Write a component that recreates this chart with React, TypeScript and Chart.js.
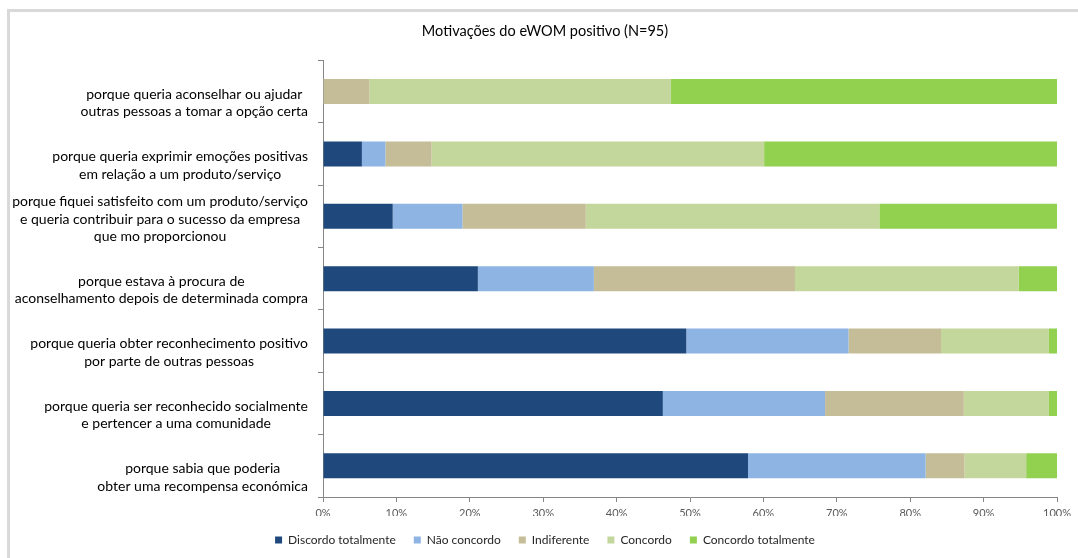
import React, { useEffect, useRef } from "react";
import { Chart, registerables } from "chart.js";

Chart.register(...registerables);

const titleText = "Motivações do eWOM positivo (N=95)";

const categories: string[][] = [
  ["porque queria aconselhar ou ajudar", "outras pessoas a tomar a opção certa"],
  ["porque queria exprimir emoções positivas", "em relação a um produto/serviço"],
  [
    "porque fiquei satisfeito com um produto/serviço",
    "e queria contribuir para o sucesso da empresa",
    "que mo proporcionou",
  ],
  ["porque estava à procura de", "aconselhamento depois de determinada compra"],
  ["porque queria obter reconhecimento positivo", "por parte de outras pessoas"],
  ["porque queria ser reconhecido socialmente", "e pertencer a uma comunidade"],
  ["porque sabia que poderia", "obter uma recompensa económica"],
];

const seriesNames = [
  "Discordo totalmente",
  "Não concordo",
  "Indiferente",
  "Concordo",
  "Concordo totalmente",
];

const discordoTotalmente = [0, 5.3, 9.5, 21.1, 49.5, 46.3, 57.9];
const naoConcordo = [0, 3.2, 9.5, 15.8, 22.1, 22.1, 24.2];
const indiferente = [6.3, 6.3, 16.8, 27.4, 12.6, 18.9, 5.3];
const concordo = [41.1, 45.3, 40.0, 30.5, 14.7, 11.6, 8.4];
const concordoTotalmente = [52.6, 40.0, 24.2, 5.3, 1.1, 1.1, 4.2];

const xTicks = [0, 10, 20, 30, 40, 50, 60, 70, 80, 90, 100];

const colors = ["#1F497D", "#8DB4E2", "#C4BD97", "#C3D69B", "#92D050"];

const FONT = "Lato, 'Open Sans', sans-serif";

const framePlugin = {
  id: "frame",
  beforeDraw(chart: any) {
    const ctx = chart.ctx;
    ctx.save();
    ctx.fillStyle = "#ffffff";
    ctx.fillRect(0, 0, chart.width, chart.height);
    ctx.fillStyle = "#D9D9D9";
    ctx.fillRect(7, 9, chart.width - 7, 3);
    ctx.fillRect(7, 9, 3, chart.height - 9);
    ctx.restore();
  },
};

const yLabelPlugin = {
  id: "yLabels",
  afterDraw(chart: any) {
    const ctx = chart.ctx;
    const y = chart.scales.y;
    const n = categories.length;
    const band = (y.bottom - y.top) / n;
    const lh = 17.5;
    const rightEdge = y.right - 15;
    ctx.save();
    ctx.font = `14px ${FONT}`;
    ctx.fillStyle = "#000000";
    ctx.textAlign = "center";
    ctx.textBaseline = "middle";
    categories.forEach((lines, i) => {
      const center = y.getPixelForValue(i);
      const bottom = center + band / 2;
      const maxW = Math.max(...lines.map((l) => ctx.measureText(l).width));
      const cx = rightEdge - maxW / 2;
      const lastY = bottom - 11;
      lines.forEach((line, j) => {
        const ly = lastY - (lines.length - 1 - j) * lh;
        ctx.fillText(line, cx, ly);
      });
    });
    ctx.restore();
  },
};

export default function App() {
  const canvasRef = useRef<HTMLCanvasElement | null>(null);

  useEffect(() => {
    if (!canvasRef.current) return;
    const values = [discordoTotalmente, naoConcordo, indiferente, concordo, concordoTotalmente];
    const chart = new Chart(canvasRef.current, {
      type: "bar",
      data: {
        labels: categories.map((c) => c.join(" ")),
        datasets: seriesNames.map((name, i) => ({
          label: name,
          data: values[i],
          backgroundColor: colors[i],
          borderWidth: 0,
          barPercentage: 0.4,
          categoryPercentage: 1,
        })),
      },
      options: {
        indexAxis: "y",
        animation: false,
        responsive: false,
        layout: { padding: { top: 12, right: 21, bottom: 2, left: 33 } },
        plugins: {
          title: {
            display: true,
            text: titleText,
            color: "#000000",
            font: { family: FONT, size: 14.5, weight: "normal" },
            padding: { top: 11, bottom: 20 },
          },
          legend: {
            display: true,
            position: "bottom",
            labels: {
              boxWidth: 7,
              boxHeight: 7,
              padding: 18,
              color: "#262626",
              font: { family: FONT, size: 12 },
            },
          },
          tooltip: { enabled: false },
        },
        scales: {
          x: {
            stacked: true,
            min: 0,
            max: 100,
            afterBuildTicks(scale: any) {
              scale.ticks = xTicks.map((v) => ({ value: v }));
            },
            afterFit(scale: any) {
              scale.height = 19;
            },
            ticks: {
              padding: 5,
              color: "#595959",
              font: { family: FONT, size: 11 },
              callback: (v: any) => `${v}%`,
            },
            grid: {
              display: true,
              drawOnChartArea: false,
              drawTicks: true,
              tickLength: 5,
              color: "#868686",
            },
            border: { display: true, color: "#868686" },
          },
          y: {
            stacked: true,
            afterFit(scale: any) {
              scale.width = 290;
            },
            ticks: { display: false },
            grid: {
              display: true,
              offset: true,
              drawOnChartArea: false,
              drawTicks: true,
              tickLength: 5,
              color: "#868686",
            },
            border: { display: true, color: "#868686" },
          },
        },
      },
      plugins: [framePlugin, yLabelPlugin],
    });
    return () => chart.destroy();
  }, []);

  return (
    <div style={{ position: "absolute", left: 0, top: 0, width: 1078, height: 558 }}>
      <canvas ref={canvasRef} width={1078} height={558} style={{ width: 1078, height: 558 }} />
    </div>
  );
}
